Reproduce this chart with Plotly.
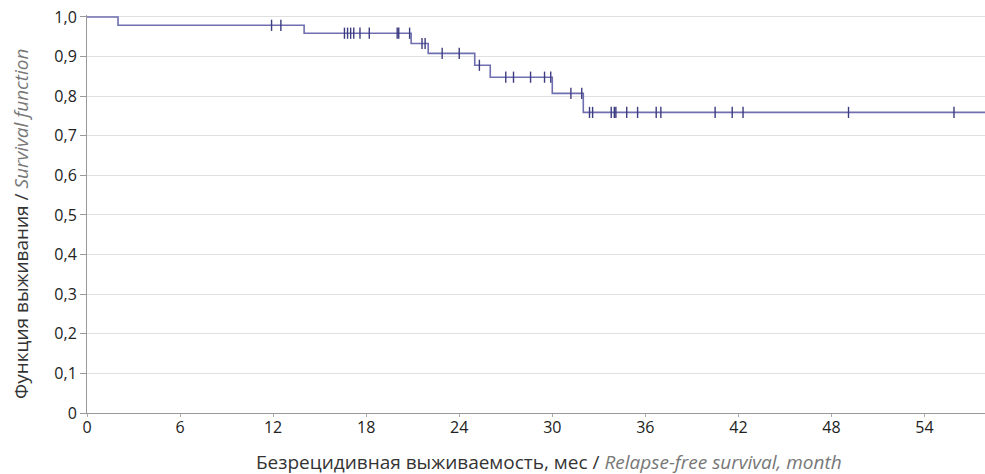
import plotly.graph_objects as go

# Kaplan-Meier step levels (time of step, survival after step)
step_times = [0, 2.0, 14.0, 20.9, 22.0, 25.0, 26.0, 30.0, 32.0]
step_surv = [1.0, 0.979, 0.959, 0.933, 0.908, 0.878, 0.848, 0.807, 0.759]
end_time = 58.0

# Censored observations (months)
censor_times = [11.9, 12.5, 16.6, 16.8, 17.0, 17.2, 17.6, 18.2, 20.0, 20.1, 20.8,
                21.6, 21.8, 22.9, 24.0, 25.3, 27.0, 27.5, 28.6, 29.5, 29.9,
                31.2, 31.9, 32.4, 32.6, 33.8, 34.0, 34.1, 34.8, 35.5, 36.7, 37.0,
                40.5, 41.6, 42.3, 49.1, 55.9]

x_ticks = [0, 6, 12, 18, 24, 30, 36, 42, 48, 54]
y_ticks = [0, 0.1, 0.2, 0.3, 0.4, 0.5, 0.6, 0.7, 0.8, 0.9, 1.0]
y_ticktext = ["0", "0,1", "0,2", "0,3", "0,4", "0,5", "0,6", "0,7", "0,8", "0,9", "1,0"]

x_title = "Безрецидивная выживаемость, мес / <span style='color:#777777'><i>Relapse-free survival, month</i></span>"
y_title = "Функция выживания / <span style='color:#777777'><i>Survival function</i></span>"


def surv_at(t):
    s = step_surv[0]
    for tt, ss in zip(step_times, step_surv):
        if t >= tt:
            s = ss
    return s


line_x = step_times + [end_time]
line_y = step_surv + [step_surv[-1]]
censor_y = [surv_at(t) for t in censor_times]

fig = go.Figure()
fig.add_trace(go.Scatter(
    x=line_x, y=line_y, mode="lines", line=dict(shape="hv", color="#6e6eb0", width=1.6),
    hoverinfo="skip", showlegend=False, cliponaxis=False,
))
fig.add_trace(go.Scatter(
    x=censor_times, y=censor_y, mode="markers",
    marker=dict(symbol="line-ns", size=8, line=dict(color="#3c3c80", width=1.4)),
    showlegend=False,
))

font_family = "Open Sans, Liberation Sans, sans-serif"
fig.update_layout(
    width=985, height=474,
    margin=dict(l=87, r=0, t=15, b=61, autoexpand=False),
    plot_bgcolor="white", paper_bgcolor="white",
    font=dict(family=font_family, size=16, color="#222222"),
    xaxis=dict(
        range=[0, 57.9], tickvals=x_ticks, ticktext=[str(v) for v in x_ticks],
        showgrid=False, zeroline=False, showline=True, linecolor="#999999", linewidth=1,
        ticks="outside", ticklen=3, tickcolor="#aaaaaa", ticklabelstandoff=-3,
        tickfont=dict(size=16, color="#222222"), automargin=False,
    ),
    yaxis=dict(
        range=[0, 1.005], tickvals=y_ticks, ticktext=y_ticktext,
        showgrid=True, gridcolor="#e0e0e0", gridwidth=1, zeroline=False,
        showline=True, linecolor="#999999", linewidth=1,
        ticks="outside", ticklen=6, tickcolor="#999999",
        tickfont=dict(size=16, color="#222222"), automargin=False,
    ),
    annotations=[
        dict(text=x_title, xref="paper", yref="paper", x=0.5145, y=-0.1225,
             xanchor="center", yanchor="middle", showarrow=False,
             font=dict(size=19, color="#333333")),
        dict(text=y_title, xref="paper", yref="paper", x=-0.0735, y=0.475,
             xanchor="center", yanchor="middle", showarrow=False, textangle=-90,
             font=dict(size=19, color="#333333")),
    ],
)

fig.write_html(
    "out.html",
    config={"displayModeBar": False},
    post_script="document.body.style.margin='0';document.body.style.overflow='hidden';",
)
